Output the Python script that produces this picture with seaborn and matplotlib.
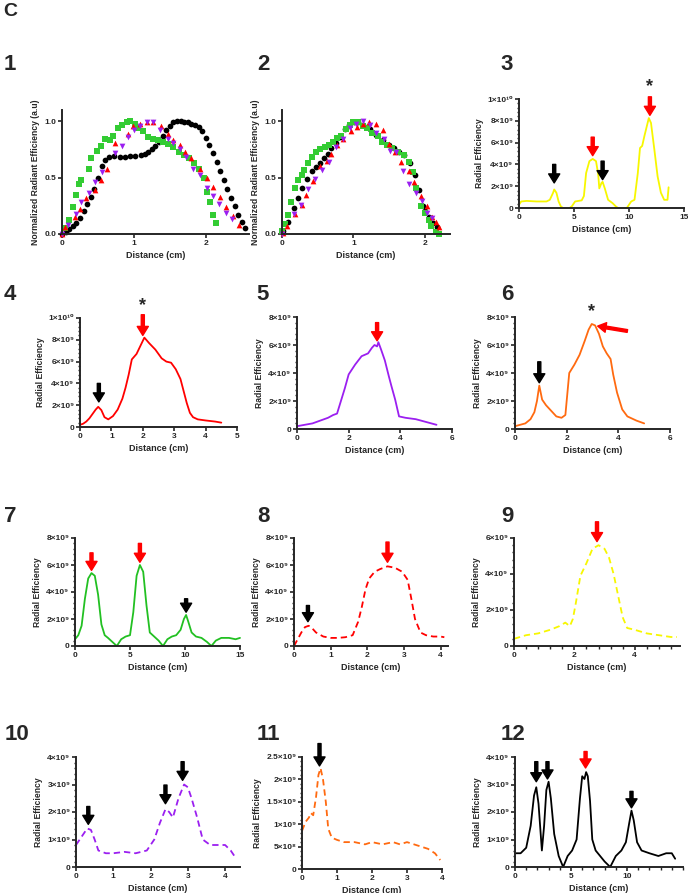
import matplotlib
matplotlib.use("Agg")
import matplotlib.pyplot as plt
from matplotlib.ticker import AutoMinorLocator
import pandas as pd
import seaborn as sns

# ------------------------------
# Data (distance in cm, efficiency in units of 1e9 for panels 3-12)
# ------------------------------
p1_black_x = [0.0, 0.05, 0.1, 0.15, 0.2, 0.25, 0.3, 0.35, 0.4, 0.45, 0.5, 0.55, 0.6, 0.65, 0.72, 0.8, 0.88, 0.95, 1.02, 1.1, 1.15, 1.2, 1.25, 1.3, 1.35, 1.4, 1.45, 1.5, 1.55, 1.6, 1.65, 1.7, 1.75, 1.8, 1.85, 1.9, 1.95, 2.0, 2.05, 2.1, 2.15, 2.2, 2.25, 2.3, 2.35, 2.4, 2.45, 2.5, 2.55]
p1_black_y = [0.0, 0.02, 0.04, 0.07, 0.1, 0.14, 0.2, 0.27, 0.33, 0.4, 0.5, 0.6, 0.66, 0.68, 0.69, 0.68, 0.68, 0.69, 0.69, 0.7, 0.71, 0.73, 0.75, 0.78, 0.82, 0.87, 0.92, 0.96, 0.99, 1.0, 1.0, 0.99, 0.99, 0.98, 0.97, 0.95, 0.91, 0.85, 0.79, 0.72, 0.64, 0.56, 0.48, 0.4, 0.32, 0.25, 0.17, 0.11, 0.05]
p1_green_x = [0.04, 0.1, 0.15, 0.2, 0.23, 0.27, 0.37, 0.41, 0.48, 0.54, 0.6, 0.67, 0.71, 0.78, 0.83, 0.9, 0.95, 1.01, 1.06, 1.13, 1.2, 1.27, 1.34, 1.41, 1.48, 1.55, 1.62, 1.69, 1.76, 1.83, 1.9, 1.97, 2.01, 2.06, 2.1, 2.14]
p1_green_y = [0.05, 0.12, 0.24, 0.35, 0.44, 0.48, 0.58, 0.67, 0.74, 0.78, 0.84, 0.83, 0.87, 0.94, 0.97, 0.99, 1.0, 0.98, 0.94, 0.91, 0.86, 0.84, 0.83, 0.82, 0.8, 0.77, 0.73, 0.7, 0.67, 0.63, 0.58, 0.5, 0.37, 0.28, 0.17, 0.1]
p1_red_x = [0.0, 0.04, 0.18, 0.25, 0.34, 0.46, 0.54, 0.62, 0.73, 0.92, 0.99, 1.08, 1.18, 1.27, 1.38, 1.47, 1.55, 1.64, 1.71, 1.8, 1.92, 2.01, 2.1, 2.19, 2.28, 2.38, 2.46]
p1_red_y = [0.0, 0.06, 0.15, 0.22, 0.32, 0.39, 0.48, 0.58, 0.81, 0.89, 0.96, 0.98, 0.99, 0.99, 0.96, 0.89, 0.83, 0.79, 0.73, 0.67, 0.58, 0.5, 0.42, 0.33, 0.24, 0.16, 0.08]
p1_purple_x = [0.0, 0.09, 0.2, 0.27, 0.37, 0.46, 0.55, 0.73, 0.83, 0.92, 1.0, 1.08, 1.18, 1.27, 1.36, 1.47, 1.55, 1.64, 1.73, 1.82, 1.92, 2.01, 2.1, 2.18, 2.28, 2.37]
p1_purple_y = [0.0, 0.08, 0.18, 0.28, 0.36, 0.46, 0.55, 0.72, 0.78, 0.86, 0.92, 0.96, 0.99, 0.99, 0.92, 0.84, 0.81, 0.75, 0.68, 0.58, 0.52, 0.41, 0.34, 0.27, 0.19, 0.13]

p2_black_x = [0.02, 0.09, 0.17, 0.23, 0.28, 0.35, 0.42, 0.48, 0.53, 0.59, 0.65, 0.69, 0.75, 0.81, 0.88, 0.94, 1.01, 1.07, 1.14, 1.23, 1.32, 1.41, 1.49, 1.56, 1.63, 1.7, 1.79, 1.86, 1.92, 1.97, 2.0, 2.05, 2.11, 2.17]
p2_black_y = [0.03, 0.11, 0.23, 0.32, 0.41, 0.49, 0.56, 0.59, 0.63, 0.67, 0.71, 0.76, 0.81, 0.86, 0.93, 0.97, 0.99, 0.99, 0.97, 0.93, 0.88, 0.83, 0.79, 0.76, 0.73, 0.7, 0.63, 0.52, 0.39, 0.25, 0.2, 0.15, 0.1, 0.06]
p2_green_x = [0.0, 0.04, 0.09, 0.13, 0.18, 0.23, 0.28, 0.31, 0.36, 0.42, 0.48, 0.53, 0.6, 0.66, 0.72, 0.77, 0.83, 0.89, 0.95, 1.0, 1.07, 1.13, 1.19, 1.26, 1.34, 1.4, 1.47, 1.54, 1.62, 1.7, 1.78, 1.83, 1.88, 1.94, 2.0, 2.05, 2.09, 2.15, 2.19]
p2_green_y = [0.03, 0.09, 0.17, 0.28, 0.41, 0.48, 0.52, 0.57, 0.63, 0.68, 0.73, 0.75, 0.77, 0.79, 0.82, 0.85, 0.87, 0.93, 0.97, 0.99, 0.99, 0.96, 0.94, 0.9, 0.87, 0.82, 0.79, 0.76, 0.73, 0.7, 0.64, 0.55, 0.41, 0.25, 0.19, 0.12, 0.07, 0.02, 0.0]
p2_red_x = [0.02, 0.07, 0.18, 0.28, 0.34, 0.43, 0.53, 0.63, 0.69, 0.77, 0.86, 0.96, 1.05, 1.14, 1.22, 1.31, 1.41, 1.5, 1.58, 1.66, 1.77, 1.85, 1.94, 2.03, 2.1, 2.16, 2.2]
p2_red_y = [0.01, 0.07, 0.18, 0.26, 0.35, 0.47, 0.6, 0.65, 0.71, 0.79, 0.84, 0.91, 0.95, 0.98, 0.99, 0.98, 0.92, 0.8, 0.73, 0.64, 0.56, 0.46, 0.34, 0.25, 0.15, 0.11, 0.06]
p2_purple_x = [0.0, 0.17, 0.27, 0.36, 0.46, 0.56, 0.66, 0.75, 0.86, 0.95, 1.03, 1.13, 1.23, 1.32, 1.43, 1.51, 1.6, 1.69, 1.78, 1.88, 1.96, 2.03, 2.1]
p2_purple_y = [0.0, 0.18, 0.26, 0.4, 0.49, 0.57, 0.64, 0.77, 0.84, 0.94, 0.98, 1.0, 0.97, 0.9, 0.84, 0.74, 0.73, 0.56, 0.44, 0.36, 0.29, 0.19, 0.14]

p3_x = [0.0, 0.2, 0.7, 1.6, 2.5, 2.8, 3.1, 3.2, 3.4, 3.6, 3.8, 4.0, 4.6, 4.8, 5.1, 5.7, 5.9, 6.1, 6.4, 6.7, 7.0, 7.2, 7.3, 7.5, 7.6, 7.8, 8.1, 8.5, 8.8, 9.0, 9.8, 9.9, 10.2, 10.5, 10.8, 11.0, 11.2, 11.4, 11.8, 12.0, 12.3, 12.6, 12.9, 13.2, 13.5, 13.6]
p3_y = [0.3, 0.6, 0.65, 0.6, 0.6, 0.75, 1.4, 1.7, 1.4, 0.6, 0.15, 0.0, 0.0, 0.15, 0.6, 0.7, 1.1, 3.2, 4.3, 4.5, 4.3, 3.1, 1.8, 2.3, 2.4, 1.8, 0.75, 0.45, 0.15, 0.0, 0.0, 0.15, 0.6, 0.75, 3.2, 5.5, 5.7, 6.6, 8.25, 7.8, 5.4, 2.9, 1.4, 0.75, 0.75, 1.9]

p4_x = [0, 0.1, 0.2, 0.3, 0.4, 0.5, 0.58, 0.68, 0.78, 0.9, 1.05, 1.2, 1.35, 1.45, 1.55, 1.65, 1.8, 1.95, 2.05, 2.2, 2.4, 2.6, 2.75, 2.9, 3.05, 3.2, 3.3, 3.4, 3.5, 3.6, 3.75, 4.0, 4.3, 4.5]
p4_y = [0.2, 0.3, 0.5, 0.8, 1.2, 1.6, 1.85, 1.55, 0.9, 0.7, 1.0, 1.6, 2.6, 3.6, 4.8, 6.2, 6.7, 7.6, 8.2, 7.7, 7.1, 6.3, 6.0, 5.9, 5.3, 4.4, 3.3, 2.2, 1.3, 0.9, 0.7, 0.6, 0.5, 0.4]

p5_x = [0, 0.3, 0.6, 0.9, 1.2, 1.4, 1.55, 1.7, 1.85, 2.0, 2.25, 2.5, 2.75, 2.9, 3.0, 3.1, 3.15, 3.25, 3.4, 3.55, 3.65, 3.8, 3.95, 4.2, 4.6, 5.0, 5.4]
p5_y = [0.2, 0.3, 0.4, 0.6, 0.8, 1.0, 1.1, 2.0, 2.9, 3.9, 4.6, 5.2, 5.4, 5.8, 6.0, 5.9, 6.2, 5.7, 4.9, 3.8, 3.1, 2.1, 0.9, 0.8, 0.7, 0.5, 0.3]

p6_x = [0, 0.2, 0.4, 0.6, 0.75, 0.85, 0.94, 1.05, 1.2, 1.4, 1.6, 1.8, 1.95, 2.1, 2.3, 2.5, 2.7, 2.85, 2.97, 3.1, 3.25, 3.4, 3.55, 3.7, 3.8, 3.95, 4.15, 4.35, 4.7, 5.0]
p6_y = [0.2, 0.3, 0.4, 0.7, 1.2, 2.0, 3.1, 2.1, 1.7, 1.3, 0.9, 0.8, 1.0, 4.0, 4.6, 5.3, 6.3, 7.1, 7.5, 7.4, 6.8, 5.9, 5.4, 5.0, 3.9, 2.6, 1.4, 0.9, 0.6, 0.4]

p7_x = [0, 0.3, 0.6, 0.9, 1.2, 1.5, 1.8, 2.1, 2.4, 2.7, 3.0, 3.4, 3.8, 4.2, 4.6, 5.0, 5.3, 5.6, 5.9, 6.2, 6.5, 6.8, 7.2, 7.6, 8.0, 8.4, 8.8, 9.2, 9.6, 9.9, 10.1, 10.3, 10.6, 11.0, 11.5, 12.0, 12.4, 12.8, 13.3, 14.0, 14.6, 15.0]
p7_y = [0.5, 0.8, 1.5, 3.5, 5.0, 5.4, 5.2, 3.8, 1.6, 0.8, 0.6, 0.3, 0.0, 0.5, 0.7, 0.8, 2.5, 5.2, 6.0, 5.5, 3.0, 1.0, 0.7, 0.4, 0.0, 0.5, 0.7, 0.8, 1.2, 2.0, 2.3, 1.8, 1.0, 0.7, 0.6, 0.3, 0.0, 0.4, 0.6, 0.6, 0.5, 0.6]

p8_x = [0, 0.1, 0.2, 0.3, 0.4, 0.5, 0.6, 0.8, 1.0, 1.2, 1.4, 1.6, 1.75, 1.85, 1.95, 2.05, 2.2, 2.35, 2.55, 2.75, 2.95, 3.1, 3.2, 3.3, 3.45, 3.6, 3.8, 4.0, 4.1]
p8_y = [0.0, 0.5, 1.0, 1.4, 1.5, 1.3, 1.0, 0.7, 0.6, 0.6, 0.65, 0.8, 1.8, 2.9, 4.2, 5.0, 5.5, 5.7, 5.9, 5.8, 5.5, 4.9, 3.5, 2.0, 1.0, 0.8, 0.7, 0.7, 0.65]

p9_x = [0, 0.4, 0.8, 1.2, 1.5, 1.7, 1.85, 1.95, 2.05, 2.2, 2.4, 2.6, 2.8, 3.0, 3.15, 3.3, 3.45, 3.6, 3.75, 4.0, 4.4, 4.8, 5.2, 5.4]
p9_y = [0.4, 0.6, 0.7, 0.9, 1.1, 1.3, 1.1, 1.5, 2.4, 3.9, 4.6, 5.4, 5.6, 5.4, 4.9, 4.0, 2.8, 1.6, 1.0, 0.9, 0.7, 0.6, 0.5, 0.5]

p10_x = [0, 0.1, 0.2, 0.3, 0.4, 0.5, 0.6, 0.8, 1.0, 1.3, 1.6, 1.9, 2.1, 2.25, 2.4, 2.5, 2.6, 2.75, 2.9, 3.0, 3.1, 3.25, 3.4, 3.6, 3.8, 4.0, 4.15, 4.3]
p10_y = [0.8, 1.0, 1.2, 1.4, 1.35, 1.0, 0.6, 0.5, 0.5, 0.55, 0.5, 0.6, 1.0, 1.6, 2.1, 2.0, 1.8, 2.5, 3.0, 2.9, 2.5, 1.8, 1.0, 0.8, 0.8, 0.8, 0.6, 0.3]

p11_x = [0, 0.05, 0.1, 0.2, 0.25, 0.32, 0.4, 0.47, 0.53, 0.6, 0.68, 0.75, 0.85, 1.0, 1.2, 1.5, 1.8, 2.0, 2.3, 2.6, 2.8, 3.0, 3.2, 3.4, 3.6, 3.8, 3.95]
p11_y = [0.85, 0.95, 1.05, 1.15, 1.25, 1.2, 1.6, 2.1, 2.25, 2.0, 1.5, 0.9, 0.7, 0.65, 0.6, 0.6, 0.55, 0.6, 0.55, 0.6, 0.55, 0.6, 0.55, 0.5, 0.45, 0.35, 0.2]

p12_x = [0, 0.5, 1.0, 1.4, 1.7, 1.9, 2.1, 2.4, 2.6, 2.8, 3.0, 3.2, 3.5, 3.9, 4.3, 4.7, 5.1, 5.5, 5.8, 6.0, 6.2, 6.35, 6.5, 6.7, 6.9, 7.2, 7.6, 8.0, 8.5, 9.0, 9.5, 9.9, 10.2, 10.4, 10.6, 10.9, 11.3, 12.0, 12.8, 13.5, 14.0, 14.3]
p12_y = [0.5, 0.5, 0.7, 1.5, 2.6, 2.9, 2.3, 0.6, 1.5, 2.8, 3.1, 2.5, 1.2, 0.4, 0.0, 0.4, 0.6, 1.0, 2.5, 3.3, 3.2, 3.45, 3.3, 2.4, 1.0, 0.6, 0.4, 0.2, 0.0, 0.4, 0.6, 0.9, 1.6, 2.05, 1.7, 0.9, 0.6, 0.5, 0.4, 0.5, 0.5, 0.3]

# arrows: (x, tail y, tip y, colour)
p3_arrows = [(3.2, 4.0, 2.3, "k"), (6.7, 6.5, 4.8, "r"), (7.6, 4.3, 2.6, "k"), (11.9, 10.2, 8.5, "r")]
p4_arrows = [(0.6, 4.0, 2.3, "k"), (2.0, 10.3, 8.4, "r")]
p5_arrows = [(3.1, 7.6, 6.3, "r")]
p6_arrows = [(0.94, 4.8, 3.3, "k")]
p7_arrows = [(1.5, 6.9, 5.6, "r"), (5.9, 7.6, 6.2, "r"), (10.1, 3.5, 2.5, "k")]
p8_arrows = [(0.38, 3.0, 1.8, "k"), (2.55, 7.7, 6.2, "r")]
p9_arrows = [(2.75, 6.9, 5.8, "r")]
p10_arrows = [(0.33, 2.2, 1.55, "k"), (2.4, 2.98, 2.3, "k"), (2.86, 3.83, 3.15, "k")]
p11_arrows = [(0.5, 2.8, 2.3, "k")]
p12_arrows = [(1.9, 3.83, 3.1, "k"), (2.9, 3.83, 3.2, "k"), (6.3, 4.2, 3.6, "r"), (10.4, 2.75, 2.15, "k")]

# ------------------------------
# Style
# ------------------------------
sns.set_style("ticks")
plt.rcParams['font.family'] = ['Liberation Sans', 'DejaVu Sans']
plt.rcParams['font.weight'] = 'bold'
plt.rcParams['axes.labelweight'] = 'bold'

W, H = 688, 893
fig = plt.figure(figsize=(W / 100, H / 100), dpi=100)

YELLOW = "#F7F700"
RED = "#FF0000"
PURPLE = "#9B1FF0"
ORANGE = "#FF6A10"
GREEN = "#22C022"
SQUARE_GREEN = "#33CC33"

SUP = str.maketrans("0123456789", "⁰¹²³⁴⁵⁶⁷⁸⁹")


def sci(v):
    # v is in units of 1e9
    if v == 0:
        return "0"
    val = v * 1e9
    exp = 0
    while val >= 10:
        val /= 10
        exp += 1
    m = f"{val:g}"
    return f"{m}×10" + str(exp).translate(SUP)


def place(l, t, r, b):
    return fig.add_axes([l / W, 1 - b / H, (r - l) / W, (b - t) / H])


def style(ax, xlim, xticks, ylim, yticks, ylabel, sci_y=True, xminor=False, yminor=True):
    ax.set_xlim(*xlim)
    ax.set_ylim(*ylim)
    ax.set_xticks(xticks)
    ax.set_xticklabels([f"{t:g}" for t in xticks])
    ax.set_yticks(yticks)
    if sci_y:
        ax.set_yticklabels([sci(t) for t in yticks])
    else:
        ax.set_yticklabels([f"{t:.1f}" for t in yticks])
    if yminor:
        ax.yaxis.set_minor_locator(AutoMinorLocator(5))
    if xminor:
        ax.xaxis.set_minor_locator(AutoMinorLocator(5))
    sns.despine(ax=ax)
    for s in ("left", "bottom"):
        ax.spines[s].set_linewidth(1.4)
    ax.tick_params(which="major", width=1.2, length=3, labelsize=6, pad=1)
    ax.tick_params(which="minor", width=1.0, length=1.8)
    for lab in ax.get_xticklabels() + ax.get_yticklabels():
        lab.set_fontweight("bold")
    ax.set_xlabel("Distance (cm)", fontsize=6.5, fontweight="bold", labelpad=3)
    ax.set_ylabel(ylabel, fontsize=6.2, fontweight="bold", labelpad=3)


def curve(ax, xs, ys, color, dashed=False):
    df = pd.DataFrame({"x": xs, "y": ys})
    sns.lineplot(data=df, x="x", y="y", ax=ax, color=color, sort=False,
                 linewidth=1.3, linestyle=(0, (3.5, 2.2)) if dashed else "-",
                 estimator=None, clip_on=False)
    ax.set_xlabel("")
    ax.set_ylabel("")


def arrows(ax, items):
    for x, tail, tip, c in items:
        col = "black" if c == "k" else RED
        ax.annotate("", xy=(x, tip), xytext=(x, tail), annotation_clip=False,
                    arrowprops=dict(width=2.2, headwidth=8, headlength=6.5,
                                    color=col, shrink=0))


def star(ax, x, y):
    ax.text(x, y, "*", ha="center", va="center", fontsize=13, fontweight="bold",
            clip_on=False)


def panel_label(txt, x, y):
    fig.text(x / W, 1 - y / H, txt, ha="center", va="center", fontsize=16,
             fontweight="bold")


fig.text(3 / W, 1 - 12 / H, "C", ha="left", va="center", fontsize=14, fontweight="bold")

NORM = "Normalized Radiant Efficiency (a.u)"
RAD = "Radial Efficiency"

# ------------------------------
# Row 1
# ------------------------------
ax1 = place(62, 110, 249, 234)
for xs, ys, c, m in [(p1_black_x, p1_black_y, "black", "o"),
                     (p1_green_x, p1_green_y, SQUARE_GREEN, "s"),
                     (p1_red_x, p1_red_y, RED, "^"),
                     (p1_purple_x, p1_purple_y, PURPLE, "v")]:
    sns.scatterplot(x=xs, y=ys, ax=ax1, color=c, marker=m, s=17, linewidth=0, clip_on=False)
style(ax1, (0, 2.6), [0, 1, 2], (0, 1.1), [0, 0.5, 1.0], NORM, sci_y=False, yminor=False)
panel_label("1", 10, 65)

ax2 = place(282, 110, 450, 234)
for xs, ys, c, m in [(p2_black_x, p2_black_y, "black", "o"),
                     (p2_green_x, p2_green_y, SQUARE_GREEN, "s"),
                     (p2_red_x, p2_red_y, RED, "^"),
                     (p2_purple_x, p2_purple_y, PURPLE, "v")]:
    sns.scatterplot(x=xs, y=ys, ax=ax2, color=c, marker=m, s=17, linewidth=0, clip_on=False)
style(ax2, (0, 2.35), [0, 1, 2], (0, 1.1), [0, 0.5, 1.0], NORM, sci_y=False, yminor=False)
panel_label("2", 263, 65)

ax3 = place(519, 99, 684, 208)
curve(ax3, p3_x, p3_y, YELLOW)
style(ax3, (0, 15), [0, 5, 10, 15], (0, 10), [0, 2, 4, 6, 8, 10], RAD, xminor=False)
arrows(ax3, p3_arrows)
star(ax3, 11.9, 11.1)
panel_label("3", 507, 65)

# ------------------------------
# Row 2
# ------------------------------
ax4 = place(80, 318, 237, 427)
curve(ax4, p4_x, p4_y, RED)
style(ax4, (0, 5), [0, 1, 2, 3, 4, 5], (0, 10), [0, 2, 4, 6, 8, 10], RAD)
arrows(ax4, p4_arrows)
star(ax4, 2.0, 11.1)
panel_label("4", 10, 295)

ax5 = place(297, 317, 452, 429)
curve(ax5, p5_x, p5_y, PURPLE)
style(ax5, (0, 6), [0, 2, 4, 6], (0, 8), [0, 2, 4, 6, 8], RAD)
arrows(ax5, p5_arrows)
panel_label("5", 263, 295)

ax6 = place(515, 317, 670, 429)
curve(ax6, p6_x, p6_y, ORANGE)
style(ax6, (0, 6), [0, 2, 4, 6], (0, 8), [0, 2, 4, 6, 8], RAD)
arrows(ax6, p6_arrows)
star(ax6, 2.97, 8.4)
ax6.annotate("", xy=(3.2, 7.35), xytext=(4.35, 7.0), annotation_clip=False,
             arrowprops=dict(width=2.0, headwidth=7, headlength=6, color=RED, shrink=0))
panel_label("6", 507, 295)

# ------------------------------
# Row 3
# ------------------------------
ax7 = place(75, 538, 240, 646)
curve(ax7, p7_x, p7_y, GREEN)
style(ax7, (0, 15), [0, 5, 10, 15], (0, 8), [0, 2, 4, 6, 8], RAD)
arrows(ax7, p7_arrows)
panel_label("7", 10, 517)

ax8 = place(294, 538, 448, 646)
curve(ax8, p8_x, p8_y, RED, dashed=True)
style(ax8, (0, 4.2), [0, 1, 2, 3, 4], (0, 8), [0, 2, 4, 6, 8], RAD)
arrows(ax8, p8_arrows)
panel_label("8", 263, 517)

ax9 = place(514, 538, 680, 646)
curve(ax9, p9_x, p9_y, YELLOW, dashed=True)
style(ax9, (0, 5.5), [0, 2, 4], (0, 6), [0, 2, 4, 6], RAD, xminor=True)
arrows(ax9, p9_arrows)
panel_label("9", 507, 517)

# ------------------------------
# Row 4
# ------------------------------
ax10 = place(76, 757, 240, 867)
curve(ax10, p10_x, p10_y, PURPLE, dashed=True)
style(ax10, (0, 4.4), [0, 1, 2, 3, 4], (0, 4), [0, 1, 2, 3, 4], RAD)
arrows(ax10, p10_arrows)
panel_label("10", 17, 735)

ax11 = place(302, 757, 442, 869)
curve(ax11, p11_x, p11_y, ORANGE, dashed=True)
style(ax11, (0, 4), [0, 1, 2, 3, 4], (0, 2.5), [0, 0.5, 1, 1.5, 2, 2.5], RAD)
arrows(ax11, p11_arrows)
panel_label("11", 268, 735)

ax12 = place(515, 757, 683, 867)
curve(ax12, p12_x, p12_y, "black")
style(ax12, (0, 15), [0, 5, 10], (0, 4), [0, 1, 2, 3, 4], RAD, xminor=True)
arrows(ax12, p12_arrows)
panel_label("12", 513, 735)

fig.savefig("out.png", dpi=100)
